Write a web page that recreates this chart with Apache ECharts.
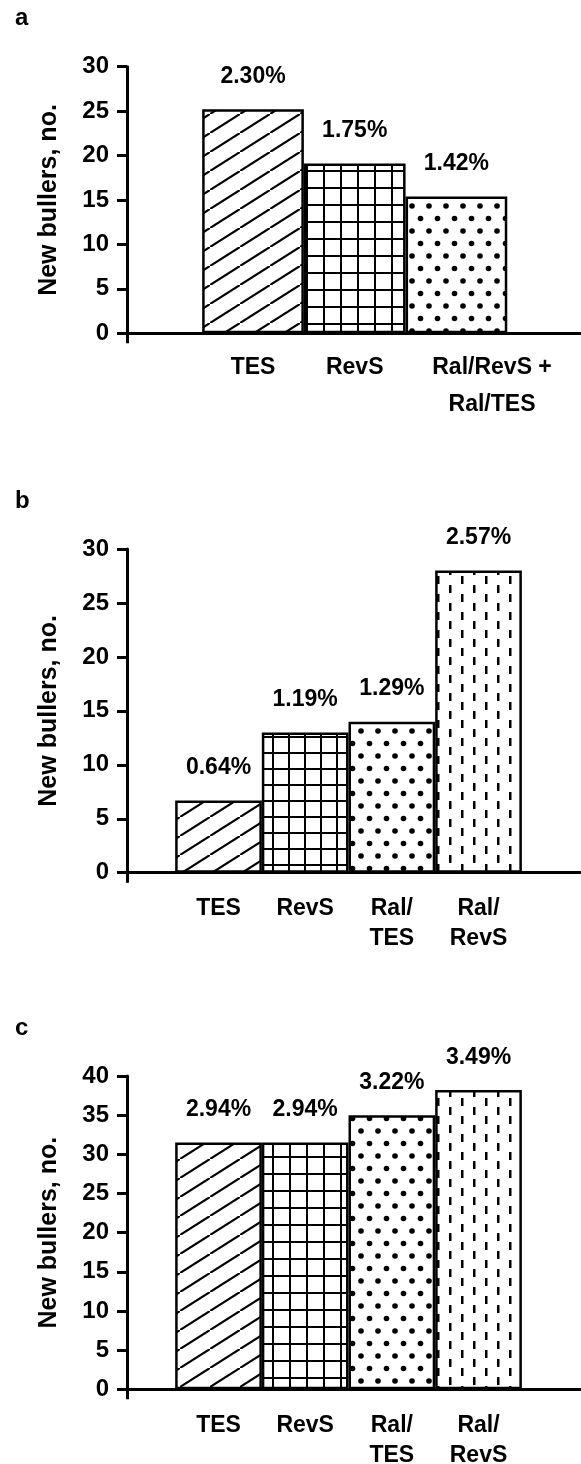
<!DOCTYPE html>
<html><head><meta charset="utf-8">
<script src="https://cdn.jsdelivr.net/npm/echarts@6/dist/echarts.min.js"></script>
<style>html,body{margin:0;padding:0;background:#fff}#c{width:581px;height:1464px}</style>
</head><body><div id="c"></div>
<script>
// ---------- data ----------
const catsA = ['TES', 'RevS', 'Ral/RevS +\nRal/TES'];
const valsA = [25.2, 19.1, 15.4];
const pctsA = ['2.30%', '1.75%', '1.42%'];

const catsB = ['TES', 'RevS', 'Ral/\nTES', 'Ral/\nRevS'];
const valsB = [6.7, 13, 14, 28];
const pctsB = ['0.64%', '1.19%', '1.29%', '2.57%'];

const catsC = ['TES', 'RevS', 'Ral/\nTES', 'Ral/\nRevS'];
const valsC = [31.5, 31.5, 35, 38.2];
const pctsC = ['2.94%', '2.94%', '3.22%', '3.49%'];

const yMaxA = 30, yMaxB = 30, yMaxC = 40, yStep = 5;
const panelLetters = ['a', 'b', 'c'];
const yName = 'New bullers, no.';

// ---------- styles ----------
const FONT = '"Liberation Sans", Arial, Helvetica, sans-serif';
const patternKinds = ['diag', 'grid', 'dots', 'dash'];

function makePattern(kind, cell) {
  const cv = document.createElement('canvas');
  let ctx;
  if (kind === 'diag') {
    const W = 30, H = 19;
    cv.width = W; cv.height = H; ctx = cv.getContext('2d');
    ctx.fillStyle = '#fff'; ctx.fillRect(0, 0, W, H);
    ctx.strokeStyle = '#000'; ctx.lineWidth = 2.2;
    for (let k = -1; k <= 1; k++) {
      ctx.beginPath();
      ctx.moveTo(k * W, H - k * H);
      ctx.lineTo((k + 1) * W, -k * H);
      ctx.stroke();
    }
  } else if (kind === 'grid') {
    const S = cell;
    cv.width = S; cv.height = S; ctx = cv.getContext('2d');
    ctx.fillStyle = '#fff'; ctx.fillRect(0, 0, S, S);
    ctx.fillStyle = '#000';
    ctx.fillRect(0, 0, 2, S);
    ctx.fillRect(0, 0, S, 2);
  } else if (kind === 'dots') {
    const W = 17, H = 25;
    cv.width = W; cv.height = H; ctx = cv.getContext('2d');
    ctx.fillStyle = '#fff'; ctx.fillRect(0, 0, W, H);
    ctx.fillStyle = '#000';
    [[4, 6], [12.5, 18.5]].forEach(p => {
      ctx.beginPath(); ctx.arc(p[0], p[1], 2.8, 0, Math.PI * 2); ctx.fill();
    });
  } else {
    const W = 24, H = 18;
    cv.width = W; cv.height = H; ctx = cv.getContext('2d');
    ctx.fillStyle = '#fff'; ctx.fillRect(0, 0, W, H);
    ctx.fillStyle = '#000';
    ctx.fillRect(5, 0, 2.5, 8);
    ctx.fillRect(17, 9, 2.5, 8);
  }
  return cv;
}

// layout: labelAt = where each category label is centred on the x scale
const panels = [
  { cats: catsA, vals: valsA, pcts: pctsA, yMax: yMaxA,
    top: 66.7, height: 266.6, xMin: -0.239, xMax: 4.215, barW: 101.7,
    lineH: 37, lMargin: 16, labelAt: [1, 2, 3.35], cell: 17, letterTop: 1 },
  { cats: catsB, vals: valsB, pcts: pctsB, yMax: yMaxB,
    top: 549, height: 323.7, xMin: -0.056, xMax: 5.171, barW: 86.7,
    lineH: 30, lMargin: 21, labelAt: [1, 2, 3, 4], cell: 16, letterTop: 484 },
  { cats: catsC, vals: valsC, pcts: pctsC, yMax: yMaxC,
    top: 1076, height: 313.3, xMin: -0.056, xMax: 5.171, barW: 86.7,
    lineH: 30, lMargin: 21, labelAt: [1, 2, 3, 4], cell: 17, letterTop: 1011 }
];

const AX = { color: '#000', width: 3 };
const option = {
  animation: false,
  backgroundColor: '#fff',
  title: [], grid: [], xAxis: [], yAxis: [], series: []
};

panels.forEach((p, i) => {
  const pats = patternKinds.map(k => makePattern(k, p.cell));
  option.title.push({
    text: panelLetters[i], left: 10, top: p.letterTop,
    textStyle: { fontFamily: FONT, fontWeight: 'bold', fontSize: 24, color: '#000' }
  });
  option.grid.push({ left: 127, width: 453, top: p.top, height: p.height,
    containLabel: false, outerBoundsMode: 'none' });
  option.xAxis.push({
    type: 'value', gridIndex: i, min: p.xMin, max: p.xMax,
    splitLine: { show: false },
    axisLine: { show: true, onZero: true, lineStyle: AX },
    axisTick: { show: true, customValues: [p.xMin], length: 10, lineStyle: AX },
    axisLabel: {
      show: true, hideOverlap: false, customValues: p.labelAt, margin: p.lMargin,
      fontFamily: FONT, fontWeight: 'bold', fontSize: 23, lineHeight: p.lineH, color: '#000',
      formatter: v => {
        const k = p.labelAt.findIndex(a => Math.abs(a - v) < 1e-6);
        return k >= 0 ? p.cats[k] : '';
      }
    }
  });
  option.yAxis.push({
    type: 'value', gridIndex: i, min: 0, max: p.yMax, interval: yStep,
    splitLine: { show: false },
    axisLine: { show: true, onZero: false, lineStyle: AX },
    axisTick: { show: true, length: 10, lineStyle: AX },
    axisLabel: { margin: 18, fontFamily: FONT, fontWeight: 'bold', fontSize: 24, color: '#000' },
    name: yName, nameLocation: 'middle', nameRotate: 90, nameGap: 65,
    nameTextStyle: { fontFamily: FONT, fontWeight: 'bold', fontSize: 25, color: '#000' }
  });
  option.series.push({
    type: 'bar', xAxisIndex: i, yAxisIndex: i, barWidth: p.barW,
    data: p.vals.map((v, k) => ({
      value: [k + 1, v],
      itemStyle: { color: { image: pats[k], repeat: 'repeat' } }
    })),
    itemStyle: { borderColor: '#000', borderWidth: 2.5 },
    label: {
      show: true, position: 'top', distance: 21,
      formatter: q => p.pcts[q.dataIndex],
      fontFamily: FONT, fontWeight: 'bold', fontSize: 23, color: '#000'
    }
  });
});

const chart = echarts.init(document.getElementById('c'), null, { renderer: 'canvas' });
chart.setOption(option);
</script>
</body></html>
